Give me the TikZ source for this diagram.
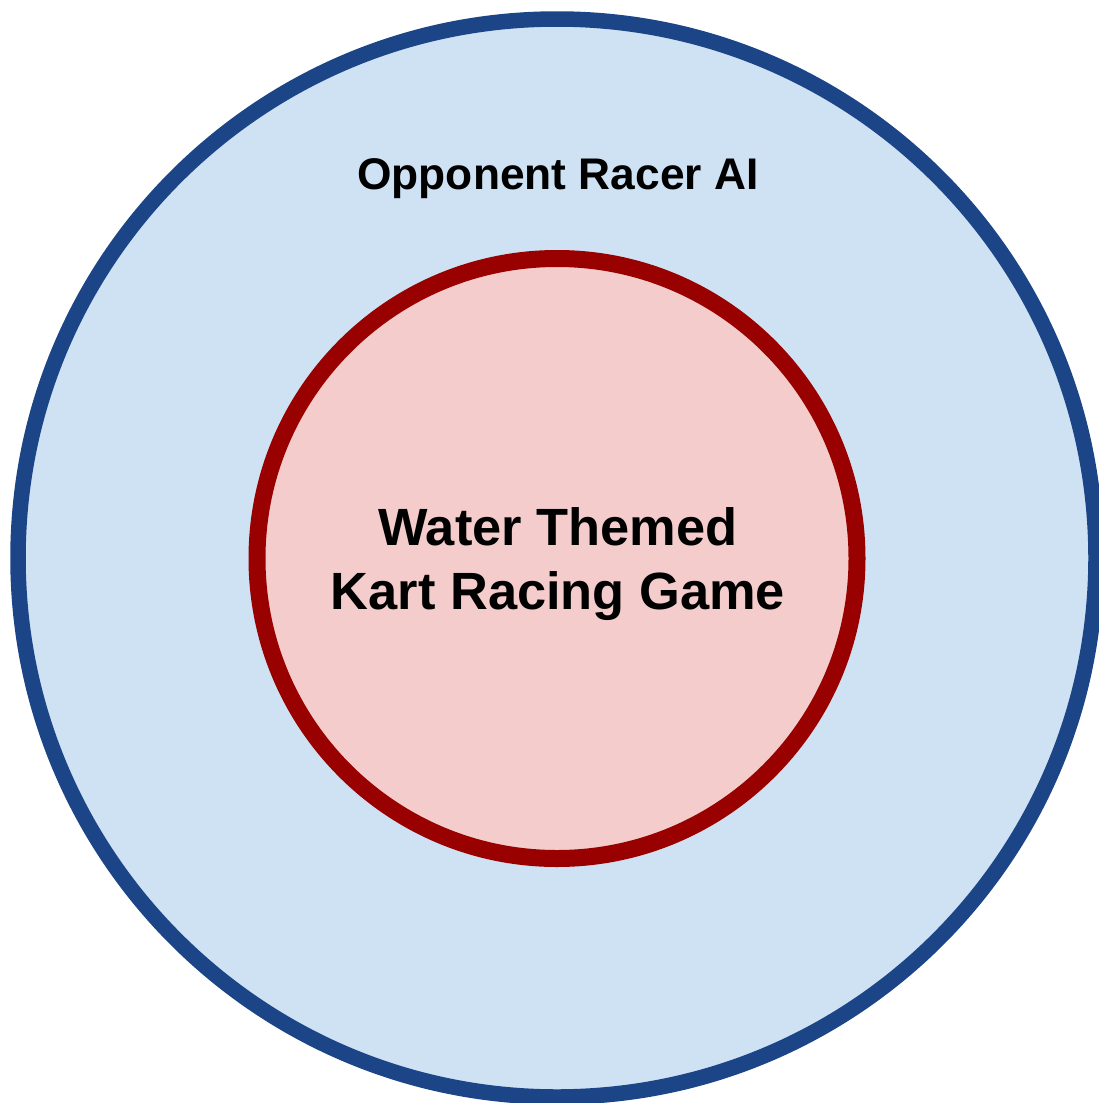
\documentclass[tikz,border=0pt]{standalone}
\usepackage{fontspec}
\setmainfont{Liberation Sans}
\definecolor{outerfill}{HTML}{CFE2F3}
\definecolor{outerline}{HTML}{1C4587}
\definecolor{innerfill}{HTML}{F4CCCC}
\definecolor{innerline}{HTML}{990000}
\begin{document}
\begin{tikzpicture}[x=1pt,y=-1pt,
  ring/.style={circle,inner sep=0pt,minimum size=#1},
  lbl/.style={font=\bfseries,align=center,text=black}]
\useasboundingbox (0,0) rectangle (1099,1103);
\node[ring=1078pt,draw=outerline,line width=15.5pt,fill=outerfill] (outer) at (557,558) {};
\node[ring=600pt,draw=innerline,line width=17pt,fill=innerfill] (inner) at (557,558.5) {};
\node[lbl,font=\fontsize{44.3}{52}\selectfont\bfseries] (t1) at (558,179) {Opponent Racer AI};
\node[lbl,font=\fontsize{52.4}{64}\selectfont\bfseries] (t2) at (558,564) {Water Themed\\Kart Racing Game};
\end{tikzpicture}
\end{document}
